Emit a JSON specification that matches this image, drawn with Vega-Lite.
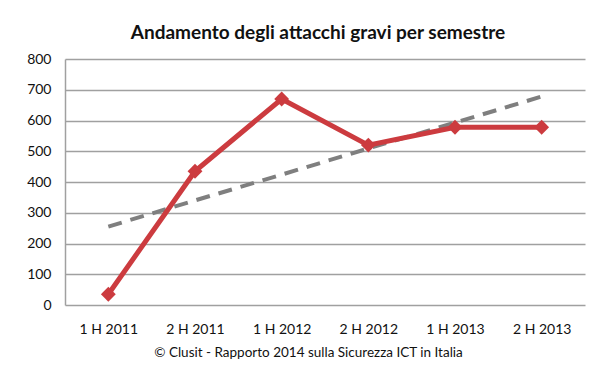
{
  "$schema": "https://vega.github.io/schema/vega-lite/v6.json",
  "width": 520,
  "height": 246,
  "autosize": "none",
  "padding": {"left": 65, "top": 59, "right": 15, "bottom": 70},
  "background": "white",
  "title": {
    "text": "Andamento degli attacchi gravi per semestre",
    "font": "Lato",
    "fontSize": 19,
    "fontWeight": "bold",
    "color": "#111111",
    "offset": 9,
    "dx": -7
  },
  "data": {
    "values": [
      {"semestre": "1 H 2011", "attacchi": 35, "trend": 255},
      {"semestre": "2 H 2011", "attacchi": 435, "trend": 340},
      {"semestre": "1 H 2012", "attacchi": 670, "trend": 424},
      {"semestre": "2 H 2012", "attacchi": 520, "trend": 509},
      {"semestre": "1 H 2013", "attacchi": 578, "trend": 593},
      {"semestre": "2 H 2013", "attacchi": 578, "trend": 678}
    ]
  },
  "encoding": {
    "x": {
      "field": "semestre",
      "type": "ordinal",
      "sort": null,
      "scale": {"paddingInner": 1, "paddingOuter": 0.5},
      "axis": {
        "title": "© Clusit - Rapporto 2014 sulla Sicurezza ICT in Italia",
        "titleFont": "Lato",
        "titleFontSize": 13.5,
        "titleFontWeight": "normal",
        "titleColor": "#111111",
        "titlePadding": 9,
        "titleX": 243,
        "labelAngle": 0,
        "labelFont": "Lato",
        "labelFontSize": 14,
        "labelColor": "#111111",
        "labelPadding": 17,
        "ticks": false,
        "domain": false,
        "grid": false
      }
    },
    "y": {
      "type": "quantitative",
      "scale": {"domain": [0, 800], "nice": false},
      "axis": {
        "title": null,
        "values": [0, 100, 200, 300, 400, 500, 600, 700, 800],
        "labelFont": "Lato",
        "labelFontSize": 14,
        "labelColor": "#111111",
        "labelPadding": 14,
        "labelOverlap": false,
        "ticks": false,
        "domainColor": "#a0a0a0",
        "domainWidth": 1.5,
        "gridColor": "#a0a0a0",
        "gridWidth": 1.5,
        "gridOpacity": 1
      }
    }
  },
  "layer": [
    {
      "mark": {"type": "line", "color": "#7f7f7f", "strokeWidth": 4, "strokeDash": [14, 9]},
      "encoding": {
        "y": {
          "field": "trend",
          "type": "quantitative",
          "scale": {"domain": [0, 800], "nice": false},
          "axis": {
            "title": null,
            "values": [0, 100, 200, 300, 400, 500, 600, 700, 800],
            "labelFont": "Lato",
            "labelFontSize": 14,
            "labelColor": "#111111",
            "labelPadding": 14,
            "labelOverlap": false,
            "ticks": false,
            "domainColor": "#a0a0a0",
            "domainWidth": 1.5,
            "gridColor": "#a0a0a0",
            "gridWidth": 1.5,
            "gridOpacity": 1
          }
        }
      }
    },
    {
      "mark": {"type": "line", "color": "#cc3b3f", "strokeWidth": 5, "point": {"shape": "diamond", "size": 220, "color": "#cc3b3f", "filled": true, "opacity": 1}},
      "encoding": {
        "y": {
          "field": "attacchi",
          "type": "quantitative",
          "scale": {"domain": [0, 800], "nice": false},
          "axis": {
            "title": null,
            "values": [0, 100, 200, 300, 400, 500, 600, 700, 800],
            "labelFont": "Lato",
            "labelFontSize": 14,
            "labelColor": "#111111",
            "labelPadding": 14,
            "labelOverlap": false,
            "ticks": false,
            "domainColor": "#a0a0a0",
            "domainWidth": 1.5,
            "gridColor": "#a0a0a0",
            "gridWidth": 1.5,
            "gridOpacity": 1
          }
        }
      }
    }
  ],
  "resolve": {"scale": {"y": "shared"}},
  "config": {"view": {"stroke": null}}
}
